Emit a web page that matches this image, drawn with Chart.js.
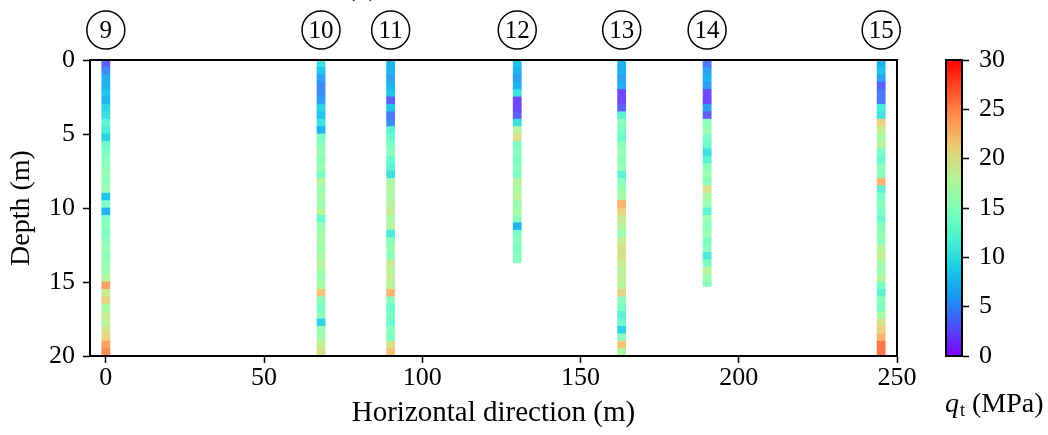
<!DOCTYPE html>
<html>
<head>
<meta charset="utf-8">
<script src="https://cdn.jsdelivr.net/npm/chart.js@4/dist/chart.umd.min.js"></script>
<style>
  body { margin: 0; background: #fff; }
  #wrap { position: relative; width: 1048px; height: 435px; }
  #main { position: absolute; left: 0; top: 0; }
  #cbar { position: absolute; left: 900px; top: 0; }
</style>
</head>
<body>
<div id="wrap">
  <canvas id="main" width="930" height="435"></canvas>
  <canvas id="cbar" width="148" height="435"></canvas>
</div>
<script>
// borehole ids and horizontal positions (m)
const holeIds = ['9', '10', '11', '12', '13', '14', '15'];
const holeX = [0, 68, 90, 130, 163, 190, 245];
const holeEnd = [20, 20, 20, 13.7, 20, 15.3, 20];
const step = 0.5; // depth interval of each value (m)

// qt (MPa) every 0.5 m, from the surface down
const qt9 = [3, 5, 7, 7, 8, 7, 9, 10, 12, 11, 9, 13, 14, 15, 15, 16, 15, 16, 8, 14,
             7, 14, 15, 14, 15, 16, 15, 16, 16, 18, 24, 19, 21, 17, 19, 18, 20, 21, 24, 25];
const qt10 = [10, 8, 6, 5, 5, 6, 9, 8, 10, 7, 14, 15, 16, 15, 16, 14, 18, 16, 17, 16,
              18, 13, 16, 17, 17, 16, 17, 18, 17, 16, 17, 22, 15, 14, 15, 9, 16, 17, 19, 20];
const qt11 = [7, 7, 6, 7, 8, 3, 8, 4, 5, 12, 13, 14, 15, 13, 12, 10, 17, 18, 17, 18,
              19, 17, 18, 11, 15, 16, 15, 19, 18, 19, 18, 23, 15, 13, 14, 13, 15, 14, 20, 22];
const qt12 = [8, 7, 6, 7, 10, 2, 2, 3, 10, 18, 20, 14, 15, 14, 15, 14, 18, 17, 18, 16,
              17, 15, 7, 14, 15, 14, 15, 15];
const qt13 = [7, 7, 6, 7, 2, 2, 3, 12, 15, 14, 13, 15, 16, 15, 16, 12, 15, 16, 17, 23,
              21, 19, 18, 16, 19, 20, 20, 19, 18, 19, 18, 21, 15, 14, 12, 13, 9, 15, 22, 17];
const qt14 = [4, 6, 7, 6, 2, 2, 6, 3, 15, 16, 14, 13, 10, 12, 15, 16, 15, 20, 17, 16,
              12, 16, 15, 16, 14, 15, 11, 14, 18, 16, 15];
const qt15 = [7, 8, 6, 3, 4, 4, 11, 10, 21, 19, 17, 18, 14, 13, 15, 15, 23, 12, 14, 15,
              14, 13, 15, 16, 15, 18, 19, 17, 16, 18, 14, 12, 15, 14, 17, 20, 21, 23, 26, 26];
const qtAll = [qt9, qt10, qt11, qt12, qt13, qt14, qt15];

const xTicks = [0, 50, 100, 150, 200, 250];
const depthTicks = [0, 5, 10, 15, 20];
const cbarTicks = [0, 5, 10, 15, 20, 25, 30];
const qtMax = 30;

const serif = '"Liberation Serif", "DejaVu Serif", serif';
const tickFont = { family: serif, size: 26 };
const titleFont = { family: serif, size: 29 };

// matplotlib 'rainbow' colormap, lightened a little like the original
function rainbow(v, fade) {
  let t = Math.max(0, Math.min(1, v / qtMax));
  let r = Math.min(1, Math.abs(2 * t - 0.5));
  let g = Math.sin(Math.PI * t);
  let b = Math.cos(Math.PI * t / 2);
  let f = fade || 0;
  let c = [r, g, b].map(k => Math.round(255 * (k * (1 - f) + f)));
  return `rgb(${c[0]},${c[1]},${c[2]})`;
}

let datasets = [];
qtAll.forEach((vals, h) => {
  let pts = vals.map((v, i) => ({
    x: holeX[h],
    y: [i * step, Math.min((i + 1) * step, holeEnd[h])]
  }));
  datasets.push({
    label: holeIds[h],
    data: pts,
    backgroundColor: vals.map(v => rainbow(v, 0.1)),
    borderWidth: 0,
    barThickness: 8,
    grouped: false,
    inflateAmount: 0.4
  });
});

const framePlugin = {
  id: 'frame',
  afterDraw(chart) {
    const ctx = chart.ctx;
    const a = chart.chartArea;
    ctx.save();
    ctx.strokeStyle = '#000';
    ctx.lineWidth = 2;
    ctx.strokeRect(a.left, a.top, a.right - a.left, a.bottom - a.top);
    ctx.restore();
  }
};

const circlePlugin = {
  id: 'circles',
  afterDraw(chart) {
    const ctx = chart.ctx;
    const xs = chart.scales.x;
    ctx.save();
    ctx.strokeStyle = '#000';
    ctx.fillStyle = '#000';
    ctx.lineWidth = 1.5;
    ctx.font = '25px ' + serif;
    ctx.textAlign = 'center';
    ctx.textBaseline = 'middle';
    holeIds.forEach((id, h) => {
      let cx = xs.getPixelForValue(holeX[h]);
      ctx.beginPath();
      ctx.arc(cx, 30, 19, 0, Math.PI * 2);
      ctx.stroke();
      ctx.fillText(id, cx, 31);
    });
    // panel tag, cut off at the top edge
    ctx.font = '26px ' + serif;
    ctx.textBaseline = 'alphabetic';
    ctx.fillText('(b)', 362, -4);
    ctx.restore();
  }
};

new Chart(document.getElementById('main'), {
  type: 'bar',
  data: { datasets: datasets },
  options: {
    responsive: false,
    animation: false,
    layout: { padding: { left: 0, right: 33, top: 60, bottom: 0 } },
    plugins: { legend: { display: false }, tooltip: { enabled: false } },
    scales: {
      x: {
        type: 'linear',
        min: -5,
        max: 250,
        offset: false,
        afterBuildTicks: s => { s.ticks = xTicks.map(v => ({ value: v })); },
        afterFit: s => { s.height = 79; },
        grid: { display: true, offset: false, drawOnChartArea: false, tickLength: 7, tickWidth: 1.5, tickColor: '#000' },
        border: { color: '#000', width: 2 },
        ticks: { color: '#000', font: tickFont, padding: 0, maxRotation: 0 },
        title: { display: true, text: 'Horizontal direction (m)', color: '#000', font: titleFont, padding: { top: 9 } }
      },
      y: {
        reverse: true,
        min: 0,
        max: 20,
        afterBuildTicks: s => { s.ticks = depthTicks.map(v => ({ value: v })); },
        afterFit: s => { s.width = 90; },
        grid: { display: true, drawOnChartArea: false, tickLength: 7, tickWidth: 1.5, tickColor: '#000' },
        border: { color: '#000', width: 2 },
        ticks: { color: '#000', font: tickFont, padding: 8 },
        title: { display: true, text: 'Depth (m)', color: '#000', font: { family: serif, size: 28 }, padding: { top: 5 } }
      }
    }
  },
  plugins: [framePlugin, circlePlugin]
});

// colour bar
const cbarLabelPlugin = {
  id: 'cbarLabel',
  afterDraw(chart) {
    const ctx = chart.ctx;
    ctx.save();
    ctx.fillStyle = '#000';
    ctx.textBaseline = 'alphabetic';
    ctx.textAlign = 'left';
    let x = 45, y = 412;
    ctx.font = 'italic 28px ' + serif;
    ctx.fillText('q', x, y);
    x += ctx.measureText('q').width + 1;
    ctx.font = '18px ' + serif;
    ctx.fillText('t', x, y + 4);
    x += ctx.measureText('t').width;
    ctx.font = '28px ' + serif;
    ctx.fillText(' (MPa)', x, y);
    ctx.restore();
  }
};

new Chart(document.getElementById('cbar'), {
  type: 'bar',
  data: {
    labels: [''],
    datasets: [{
      data: [[0, qtMax]],
      borderWidth: 0,
      barPercentage: 1,
      categoryPercentage: 1,
      backgroundColor: ctx => {
        const a = ctx.chart.chartArea;
        if (!a) return '#000';
        const g = ctx.chart.ctx.createLinearGradient(0, a.bottom, 0, a.top);
        for (let i = 0; i <= 10; i++) g.addColorStop(i / 10, rainbow(qtMax * i / 10));
        return g;
      }
    }]
  },
  options: {
    responsive: false,
    animation: false,
    layout: { padding: { left: 46, right: 0, top: 60, bottom: 79 } },
    plugins: { legend: { display: false }, tooltip: { enabled: false } },
    scales: {
      x: { display: false },
      y: {
        position: 'right',
        min: 0,
        max: qtMax,
        afterBuildTicks: s => { s.ticks = cbarTicks.map(v => ({ value: v })); },
        afterFit: s => { s.width = 86; },
        grid: { display: true, drawOnChartArea: false, tickLength: 7, tickWidth: 1.5, tickColor: '#000' },
        border: { color: '#000', width: 2 },
        ticks: { color: '#000', font: tickFont, padding: 10 }
      }
    }
  },
  plugins: [framePlugin, cbarLabelPlugin]
});
</script>
</body>
</html>
